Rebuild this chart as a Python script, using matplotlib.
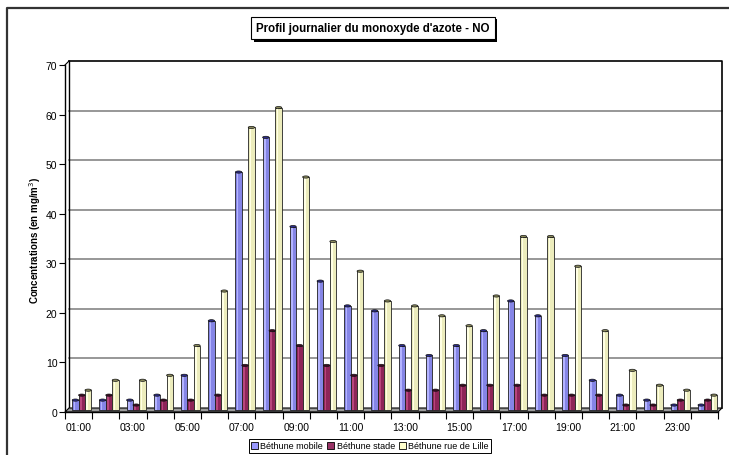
import matplotlib.pyplot as plt
import matplotlib.transforms as mtransforms
from matplotlib.patches import Patch, Polygon, Ellipse, Rectangle
from matplotlib.lines import Line2D
import numpy as np

plt.rcParams['font.family'] = ['Liberation Sans', 'DejaVu Sans']

hours = ["01:00", "02:00", "03:00", "04:00", "05:00", "06:00", "07:00", "08:00",
         "09:00", "10:00", "11:00", "12:00", "13:00", "14:00", "15:00", "16:00",
         "17:00", "18:00", "19:00", "20:00", "21:00", "22:00", "23:00", "24:00"]
mobile = [2, 2, 2, 3, 7, 18, 48, 55, 37, 26, 21, 20, 13, 11, 13, 16, 22, 19, 11, 6, 3, 2, 1, 1]
stade = [3, 3, 1, 2, 2, 3, 9, 16, 13, 9, 7, 9, 4, 4, 5, 5, 5, 3, 3, 3, 1, 1, 2, 2]
lille = [4, 6, 6, 7, 13, 24, 57, 61, 47, 34, 28, 22, 21, 19, 17, 23, 35, 35, 29, 16, 8, 5, 4, 3]
series_names = ["Béthune mobile", "Béthune stade", "Béthune rue de Lille"]

W, H = 729, 456
fig = plt.figure(figsize=(W / 100, H / 100), dpi=100)
ax = fig.add_axes([65 / W, 43 / H, 653 / W, 347 / H])
n = len(hours)
ax.set_xlim(0, n)
ax.set_ylim(0, 70)

# depth of the 3d box, in data units
dx = 4 / (653 / n)
dy = 4 / (347 / 70)

# back wall + gridlines
for v in range(10, 70, 10):
    ax.plot([dx, n + dx], [v + dy, v + dy], color='#7a7a7a', lw=1.1, clip_on=False, zorder=1)
ax.plot([dx, n + dx, n + dx], [70 + dy, 70 + dy, dy], color='black', lw=1.2, clip_on=False, zorder=1)
ax.plot([dx, dx], [dy, 70 + dy], color='black', lw=1.0, clip_on=False, zorder=1)
ax.plot([0, dx], [70, 70 + dy], color='black', lw=0.8, clip_on=False, zorder=1)

# floor
floor = Polygon([(0, 0), (n, 0), (n + dx, dy), (dx, dy)], closed=True,
                facecolor='#9c9c9c', edgecolor='black', lw=0.8, clip_on=False, zorder=2)
ax.add_patch(floor)

# bars sit halfway into the depth
mid = mtransforms.offset_copy(ax.transData, fig=fig, x=2, y=2, units='dots')
x = np.arange(n)
bw = 0.235
styles = [
    ('#8585e6', '#b4b4ff', '#2c2c8a'),
    ('#8e2458', '#b8467c', '#3d0a22'),
    ('#ececbc', '#ffffe4', '#8a8a5c'),
]
cap_h = 2.2 / (347 / 70)
for k, vals in enumerate([mobile, stade, lille]):
    face, light, dark = styles[k]
    left = x + 0.19 + k * bw
    ax.bar(left, vals, width=bw, align='edge', color=face, edgecolor='#222222',
           lw=0.6, transform=mid, zorder=3)
    ax.bar(left + 0.05, vals, width=0.06, align='edge', color=light, lw=0,
           transform=mid, zorder=3.5)
    for xi, v in zip(left, vals):
        ax.add_patch(Ellipse((xi + bw / 2, v), bw, cap_h, facecolor=dark,
                             edgecolor='#111111', lw=0.5, transform=mid, zorder=4))

# axes styling
for s in ['top', 'right']:
    ax.spines[s].set_visible(False)
ax.spines['left'].set_linewidth(1.0)
ax.spines['bottom'].set_linewidth(1.0)
ax.spines['bottom'].set_zorder(2.5)
ax.set_yticks(range(0, 71, 10))
ax.tick_params(axis='y', direction='out', length=4, width=0.8, labelsize=7.5, pad=1.5)
ax.set_xticks(np.arange(0, n + 1))
ax.set_xticklabels([])
ax.tick_params(axis='x', which='major', direction='out', length=5, width=0.8)
ax.set_xticks(x[::2] + 0.5, minor=True)
ax.set_xticklabels(hours[::2], minor=True)
ax.tick_params(axis='x', which='minor', length=0, labelsize=7.5, pad=7)
ax.patch.set_visible(False)

fig.text(35 / W, 1 - 240 / H, "Concentrations (en mg/m$^3$)", rotation=90,
         ha='center', va='center', fontsize=7, fontweight='bold')

# title box, with a drop shadow drawn behind it
title = fig.text(373 / W, 1 - 29 / H, "Profil journalier du monoxyde d'azote - NO",
                 ha='center', va='center', fontsize=8.3, fontweight='bold', zorder=5,
                 bbox=dict(boxstyle='square,pad=0.45', facecolor='white', edgecolor='black', lw=0.8))
fig.canvas.draw()
tb = title.get_bbox_patch().get_window_extent()
fig.add_artist(Rectangle((tb.x0 + 2.5, tb.y0 - 2.5), tb.width, tb.height,
                         transform=None, facecolor='black', edgecolor='none', zorder=4))

# legend
handles = [Patch(facecolor=c, edgecolor='black', lw=0.6) for c in ['#9999ff', '#993366', '#ffffcc']]
leg = fig.legend(handles, series_names, loc='center', bbox_to_anchor=(370 / W, 1 - 447 / H),
                 ncol=3, fontsize=6.5, handlelength=0.75, handleheight=0.75, handletextpad=0.25,
                 columnspacing=0.5, borderpad=0.25, borderaxespad=0, fancybox=False,
                 framealpha=1, edgecolor='black')
leg.get_frame().set_linewidth(0.7)

# chart area border
fig.add_artist(Line2D([7 / W, 7 / W, 1.0], [0.0, 1 - 9 / H, 1 - 9 / H],
                      transform=fig.transFigure, color='#333333', lw=1.6))

fig.savefig('out.png', dpi=100)
